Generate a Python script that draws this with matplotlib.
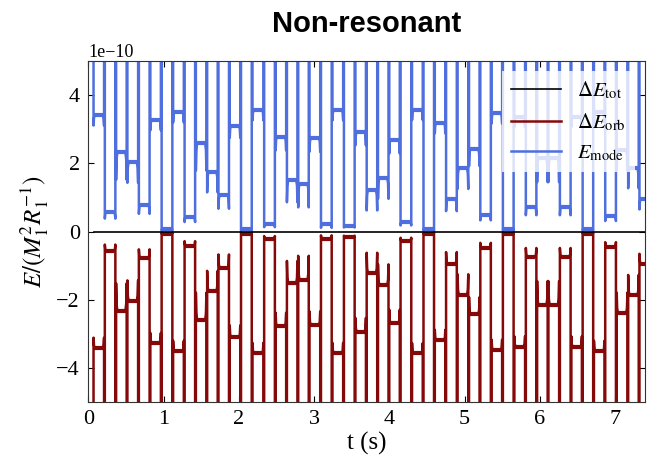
import numpy as np
import matplotlib.pyplot as plt

plt.rcParams['font.family'] = ['Liberation Serif', 'DejaVu Serif']
plt.rcParams['mathtext.fontset'] = 'stix'

# centre of each plateau between two periastron passages (s)
t_mid = [0.14, 0.29, 0.44, 0.59, 0.745, 0.895, 1.045, 1.20, 1.35, 1.50,
         1.65, 1.80, 1.95, 2.10, 2.255, 2.41, 2.56, 2.71, 2.86, 3.01,
         3.165, 3.315, 3.47, 3.62, 3.77, 3.92, 4.07, 4.22, 4.375, 4.525,
         4.675, 4.825, 4.98, 5.13, 5.28, 5.43, 5.58, 5.735, 5.885, 6.035,
         6.185, 6.34, 6.49, 6.64, 6.79, 6.94, 7.095, 7.245, 7.395]
# mode energy on each plateau (units of 1e-10)
e_mode_level = [3.41, 0.56, 2.32, 2.03, 0.77, 3.27, 0.08, 3.50, 0.43, 2.59,
                1.75, 1.07, 3.10, 0.08, 3.56, 0.23, 2.78, 1.51, 1.41, 2.74,
                0.21, 3.56, 0.17, 2.93, 1.22, 1.56, 2.69, 0.28, 3.57, 0.08,
                3.18, 0.95, 1.85, 2.42, 0.48, 3.47, 0.08, 3.37, 0.73, 2.15,
                2.15, 0.73, 3.37, 0.08, 3.50, 0.46, 2.39, 1.87, 0.95]
# dip of the mode energy just before / after each periastron spike
horn_depth = [0.30, 0.18, 0.80, 0.60, 0.25, 0.30, 0.05, 0.30, 0.15, 0.80,
              0.60, 0.40, 0.35, 0.05, 0.30, 0.10, 0.40, 0.65, 0.70, 0.40,
              0.10, 0.30, 0.05, 0.40, 0.60, 0.60, 0.40, 0.10, 0.30, 0.05,
              0.30, 0.35, 0.60, 0.50, 0.15, 0.30, 0.05, 0.30, 0.25, 0.70,
              0.70, 0.25, 0.30, 0.05, 0.30, 0.15, 0.60, 0.60, 0.30]

blue = '#4f6fde'
red = '#860909'
scale = 1e-10

# build the mode-energy trace: plateau, dip, spike off the chart at periastron
tm = np.array(t_mid)
lev = np.array(e_mode_level)
hd = np.array(horn_depth)
mids = (tm[1:] + tm[:-1]) / 2
left = np.r_[tm[0] - (tm[1] - tm[0]) / 2, mids]
right = np.r_[mids, tm[-1] + (tm[-1] - tm[-2]) / 2]
gap = 0.005   # half width of a periastron spike
top = 20.0

t, e_mode = [], []
for a, b, L, h in zip(left, right, lev, hd):
    a, b = a + gap, b - gap
    t += [a, a, a + 0.006, a + 0.016, b - 0.016, b - 0.006, b, b]
    e_mode += [top, L - h, L - 0.25 * h, L, L, L - 0.25 * h, L - h, top]
t = np.array(t)
e_mode = np.array(e_mode)
e_orb = -e_mode
e_tot = e_orb + e_mode

fig = plt.figure(figsize=(6.49, 4.66), dpi=100)
ax = fig.add_axes([0.136, 0.137, 0.858, 0.732])

ax.plot(t, e_tot * scale, color='black', lw=1.2, label=r'$\Delta E_{\rm tot}$', zorder=3)
ax.plot(t, e_orb * scale, color=red, lw=1.8, label=r'$\Delta E_{\rm orb}$')
ax.plot(t, e_mode * scale, color=blue, lw=1.8, label=r'$E_{\rm mode}$')
# thicker band on the plateaus (unresolved fast mode oscillation)
ax.hlines(-lev * scale, left + gap + 0.012, right - gap - 0.012, color=red, lw=3.0)
ax.hlines(lev * scale, left + gap + 0.012, right - gap - 0.012, color=blue, lw=3.0)

ax.set_xlim(0, 7.4)
ax.set_ylim(-5e-10, 5e-10)
ax.tick_params(direction='in', top=True, right=True, length=4, labelsize=16, pad=6)
ax.yaxis.get_offset_text().set_fontsize(13)
for s in ax.spines.values():
    s.set_color('#333333')

ax.set_xlabel('t (s)', fontsize=18, labelpad=2)
ax.set_ylabel(r'$E/(M_1^2 R_1^{-1})$', fontsize=18, labelpad=4)
ax.set_title('Non-resonant', fontsize=21, fontweight='bold',
             family='Liberation Sans', pad=21)

leg = ax.legend(loc='upper right', fontsize=15, handlelength=2.4,
                framealpha=0.8, edgecolor='none', fancybox=False)

fig.savefig('out.png', dpi=100)
